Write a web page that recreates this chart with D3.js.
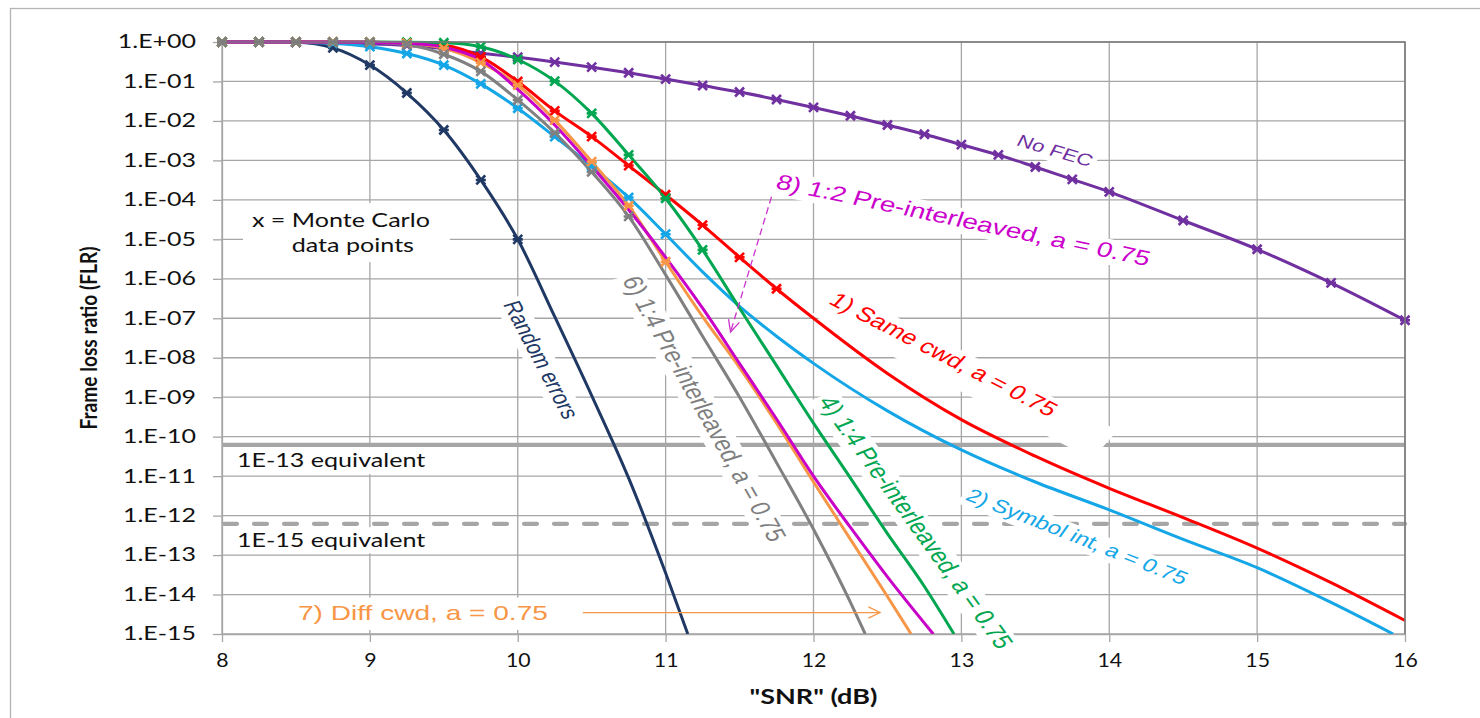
<!DOCTYPE html>
<html><head><meta charset="utf-8">
<script src="https://cdn.jsdelivr.net/npm/d3@7"></script>
<style>body{margin:0;background:#fff}svg{display:block}</style>
</head><body>
<svg id="c" width="1480" height="718"></svg>
<script>
// ---------- data ----------
const xTicks = [8, 9, 10, 11, 12, 13, 14, 15, 16];
const yTickValues = [1, 1e-1, 1e-2, 1e-3, 1e-4, 1e-5, 1e-6, 1e-7, 1e-8, 1e-9, 1e-10, 1e-11, 1e-12, 1e-13, 1e-14, 1e-15];
const yTickLabels = ["1.E+00","1.E-01","1.E-02","1.E-03","1.E-04","1.E-05","1.E-06","1.E-07","1.E-08","1.E-09","1.E-10","1.E-11","1.E-12","1.E-13","1.E-14","1.E-15"];

const snrRandom = [8, 8.25, 8.5, 8.75, 9, 9.25, 9.5, 9.75, 10, 10.25, 10.5, 10.75, 11, 11.15];
const flrRandom = [1, 1, 0.98, 0.71, 0.26, 5.1e-2, 5.9e-3, 3.2e-4, 1.0e-5, 1.1e-7, 1.1e-9, 8.9e-12, 3.5e-14, 1.0e-15];

const snrNoFec = [8, 8.25, 8.5, 8.75, 9, 9.25, 9.5, 9.75, 10, 10.25, 10.5, 10.75, 11, 11.25, 11.5, 11.75, 12, 12.25, 12.5, 12.75, 13, 13.25, 13.5, 13.75, 14, 14.5, 15, 15.5, 16];
const flrNoFec = [1, 1, 0.98, 0.955, 0.90, 0.81, 0.68, 0.52, 0.41, 0.31, 0.23, 0.166, 0.115, 7.9e-2, 5.4e-2, 3.5e-2, 2.2e-2, 1.35e-2, 7.9e-3, 4.6e-3, 2.5e-3, 1.38e-3, 6.8e-4, 3.3e-4, 1.6e-4, 3.0e-5, 5.6e-6, 7.9e-7, 8.9e-8];

const snrSameCwd = [8, 8.25, 8.5, 8.75, 9, 9.25, 9.5, 9.75, 10, 10.25, 10.5, 10.75, 11, 11.25, 11.5, 11.75, 12, 12.5, 13, 13.5, 14, 14.5, 15, 15.5, 16];
const flrSameCwd = [1, 1, 1, 1, 0.99, 0.955, 0.83, 0.42, 0.10, 1.8e-2, 4.0e-3, 7.4e-4, 1.35e-4, 2.3e-5, 3.5e-6, 5.6e-7, 1.0e-7, 4.0e-9, 2.7e-10, 3.2e-11, 4.9e-12, 8.9e-13, 1.5e-13, 2.0e-14, 2.2e-15];

const snrSymbolInt = [8, 8.25, 8.5, 8.75, 9, 9.25, 9.5, 9.75, 10, 10.25, 10.5, 10.75, 11, 11.25, 11.5, 11.75, 12, 12.5, 13, 13.5, 14, 14.5, 15, 15.5, 15.92];
const flrSymbolInt = [1, 1, 0.99, 0.93, 0.76, 0.51, 0.26, 8.7e-2, 2.1e-2, 4.0e-3, 7.1e-4, 1.15e-4, 1.35e-5, 1.5e-6, 2.0e-7, 3.5e-8, 7.2e-9, 4.5e-10, 4.6e-11, 7.1e-12, 1.4e-12, 2.5e-13, 4.8e-14, 6.3e-15, 1.0e-15];

const snrPre14a = [8, 8.25, 8.5, 8.75, 9, 9.25, 9.5, 9.75, 10, 10.25, 10.5, 10.75, 11, 11.25, 11.5, 11.75, 12, 12.25, 12.5, 12.75, 12.95];
const flrPre14a = [1, 1, 1, 1, 1, 0.99, 0.955, 0.76, 0.36, 0.102, 1.55e-2, 1.38e-3, 1.1e-4, 5.4e-6, 1.8e-7, 6.3e-9, 2.2e-10, 8.9e-12, 3.5e-13, 1.6e-14, 1.0e-15];

const snrPre14b = [8, 8.25, 8.5, 8.75, 9, 9.25, 9.5, 9.75, 10, 10.25, 10.5, 10.75, 11, 11.25, 11.5, 11.75, 12, 12.25, 12.35];
const flrPre14b = [1, 1, 1, 0.99, 0.98, 0.85, 0.49, 0.18, 3.4e-2, 5.0e-3, 5.1e-4, 3.8e-5, 1.26e-6, 3.5e-8, 1.0e-9, 2.2e-11, 4.5e-13, 6.3e-15, 1.0e-15];

const snrDiffCwd = [8, 8.25, 8.5, 8.75, 9, 9.25, 9.5, 9.75, 10, 10.25, 10.5, 10.75, 11, 11.25, 11.5, 11.75, 12, 12.25, 12.5, 12.66];
const flrDiffCwd = [1, 1, 1, 1, 0.99, 0.93, 0.69, 0.30, 8.1e-2, 1.05e-2, 9.3e-4, 7.1e-5, 2.7e-6, 1.1e-7, 5.6e-9, 2.2e-10, 7.1e-12, 2.5e-13, 8.9e-15, 1.0e-15];

const snrPre12 = [8, 8.25, 8.5, 8.75, 9, 9.25, 9.5, 9.75, 10, 10.25, 10.5, 10.75, 11, 11.25, 11.5, 11.75, 12, 12.25, 12.5, 12.81];
const flrPre12 = [1, 1, 1, 1, 0.99, 0.93, 0.74, 0.355, 6.3e-2, 7.9e-3, 7.1e-4, 5.6e-5, 3.5e-6, 1.8e-7, 7.1e-9, 2.8e-10, 1.0e-11, 5.0e-13, 2.8e-14, 1.0e-15];

// number of leading Monte Carlo points (marked with x) per series
const monteCarloCounts = {random: 9, noFec: 29, same: 16, symbol: 13, pre14a: 14, pre14b: 12, diff: 13, pre12: 0};

const refLevels = [6.2e-11, 6.2e-13];
const refLabels = ["1E-13 equivalent", "1E-15 equivalent"];

// curve labels: baseline start (s1,f1) and end (s2,f2) in data units
const curveLabels = [
  {text: "No FEC", color: "#7030a0", s1: 13.365, f1: 2.45e-3, s2: 13.865, f2: 6.8e-4},
  {text: "8) 1:2 Pre-interleaved, a = 0.75", color: "#cc00cc", s1: 11.736, f1: 1.99e-4, s2: 14.257, f2: 2.10e-6},
  {text: "1) Same cwd, a = 0.75", color: "#ff0000", s1: 12.095, f1: 2.42e-7, s2: 13.595, f2: 3.12e-10, pad: [3, 50, 3, 12]},
  {text: "2) Symbol int, a = 0.75", color: "#14a6e6", s1: 13.02, f1: 2.61e-12, s2: 14.493, f2: 1.72e-14},
  {text: "Random errors", color: "#1f3864", s1: 9.899, f1: 2.29e-7, s2: 10.311, f2: 2.62e-10},
  {text: "6) 1:4 Pre-interleaved, a = 0.75", color: "#7f7f7f", s1: 10.703, f1: 9.27e-7, s2: 11.703, f2: 2.0e-13},
  {text: "4) 1:4 Pre-interleaved, a = 0.75", color: "#00a650", s1: 12.027, f1: 7.94e-10, s2: 13.247, f2: 3.87e-16},
  {text: "7) Diff cwd, a = 0.75", color: "#f79646", s1: 8.514, f1: 2.23e-15, s2: 10.203, f2: 2.23e-15, pad: [6, 17, 7, 5]}
];
const arrows = [
  {color: "#f79646", s1: 10.44, f1: 3.5e-15, s2: 12.45, f2: 3.5e-15, dash: null},
  {color: "#cc33cc", s1: 11.716, f1: 1.2e-4, s2: 11.439, f2: 4.5e-8, dash: "7,4"}
];
const noteLines = [
  {text: "x = Monte Carlo", s: 8.804, f: 2.05e-5},
  {text: "data points", s: 8.885, f: 4.75e-6}
];
const noteBox = {s1: 8.142, s2: 9.541, f1: 8.3e-5, f2: 2.65e-6};
const refTextBoxes = [
  {s: 8.101, f: 1.69e-11, bs1: 8.041, bs2: 9.473, bf1: 5.42e-11, bf2: 1.12e-11},
  {s: 8.101, f: 1.58e-13, bs1: 8.041, bs2: 9.473, bf1: 5.08e-13, bf2: 1.11e-13}
];

// ---------- setup ----------
const S_TXT = 1.35, S_XT = 1.15, S_LAB = 1.33;
const GRID = "#a6a6a6";
const M = {left: 222, right: 1405, top: 42, bottom: 634};
const svg = d3.select("#c");
const x = d3.scaleLinear().domain([8, 16]).range([M.left, M.right]);
const y = d3.scaleLog().domain([1e-15, 1]).range([M.bottom, M.top]);

svg.append("rect").attr("x", 10.5).attr("y", 8.5).attr("width", 1490).attr("height", 730)
  .attr("fill", "none").attr("stroke", "#b4b4b4").attr("stroke-width", 1.3);

// grid
const grid = svg.append("g");
grid.selectAll("line.v").data(xTicks).join("line").attr("class", "v")
  .attr("x1", d => x(d)).attr("x2", d => x(d)).attr("y1", M.top).attr("y2", M.bottom)
  .attr("stroke", GRID).attr("stroke-width", 1.3);
grid.selectAll("line.h").data(yTickValues).join("line").attr("class", "h")
  .attr("x1", M.left).attr("x2", M.right).attr("y1", d => y(d)).attr("y2", d => y(d))
  .attr("stroke", GRID).attr("stroke-width", 1.3);

// axes
const gy = svg.append("g").attr("transform", `translate(${M.left},0)`)
  .call(d3.axisLeft(y).tickValues(yTickValues).tickFormat((d, i) => yTickLabels[i]).tickSize(9).tickSizeOuter(0).tickPadding(17));
const gx = svg.append("g").attr("transform", `translate(0,${M.bottom})`)
  .call(d3.axisBottom(x).tickValues(xTicks).tickFormat(d3.format("d")).tickSize(8).tickSizeOuter(0).tickPadding(12));
[gx, gy].forEach(g => {
  g.select(".domain").attr("stroke", GRID).attr("stroke-width", 1.3);
  g.selectAll(".tick line").attr("stroke", GRID).attr("stroke-width", 1.3);
});
gy.selectAll(".tick text").attr("font-family", "Lato, sans-serif").attr("font-size", 18.5).attr("fill", "#111")
  .attr("x", -26 / S_TXT).attr("transform", `scale(${S_TXT},1)`);
gx.selectAll(".tick text").attr("font-family", "Lato, sans-serif").attr("font-size", 18.5).attr("fill", "#111")
  .attr("transform", `scale(${S_XT},1)`);

// axis titles
const titles = svg.append("g").attr("font-family", "Lato, sans-serif").attr("font-weight", 700).attr("fill", "#111");
const yt = titles.append("text").text("Frame loss ratio (FLR)").attr("text-anchor", "middle").attr("font-size", 20)
  .attr("transform", `translate(97,338) scale(1.15,1) rotate(-90)`);
{
  const w = yt.node().getComputedTextLength();
  yt.attr("font-size", 20 * 183 / w);
}
titles.append("text").text('"SNR" (dB)').attr("text-anchor", "middle").attr("font-size", 20)
  .attr("transform", `translate(${(M.left + M.right) / 2},704) scale(${S_TXT},1)`);

// reference lines
const refs = svg.append("g");
refs.append("line").attr("x1", M.left).attr("x2", M.right).attr("y1", y(refLevels[0])).attr("y2", y(refLevels[0]))
  .attr("stroke", "#a6a6a6").attr("stroke-width", 4.2);
refs.append("line").attr("x1", M.left + 2).attr("x2", M.right).attr("y1", y(refLevels[1])).attr("y2", y(refLevels[1]))
  .attr("stroke", "#a6a6a6").attr("stroke-width", 4.2).attr("stroke-dasharray", "13,17").attr("stroke-linecap", "round");

// text boxes (notes)
const notes = svg.append("g");
notes.append("rect").attr("x", x(noteBox.s1)).attr("y", y(noteBox.f1))
  .attr("width", x(noteBox.s2) - x(noteBox.s1)).attr("height", y(noteBox.f2) - y(noteBox.f1)).attr("fill", "#fff");
noteLines.forEach(n => {
  notes.append("text").text(n.text).attr("text-anchor", "middle").attr("font-family", "Lato, sans-serif")
    .attr("font-size", 18.6).attr("fill", "#111")
    .attr("transform", `translate(${x(n.s)},${y(n.f)}) scale(${S_TXT},1)`);
});
refTextBoxes.forEach((b, i) => {
  notes.append("rect").attr("x", x(b.bs1)).attr("y", y(b.bf1))
    .attr("width", x(b.bs2) - x(b.bs1)).attr("height", y(b.bf2) - y(b.bf1)).attr("fill", "#fff");
  notes.append("text").text(refLabels[i]).attr("font-family", "Lato, sans-serif")
    .attr("font-size", 18.6).attr("fill", "#111")
    .attr("transform", `translate(${x(b.s)},${y(b.f)}) scale(${S_TXT},1)`);
});

// curve labels
const labelLayer = svg.append("g");
curveLabels.forEach(lab => {
  const x1 = x(lab.s1), y1 = y(lab.f1), x2 = x(lab.s2), y2 = y(lab.f2);
  const phi = Math.atan2(y2 - y1, x2 - x1);
  const th0 = Math.atan2(S_LAB * Math.sin(phi), Math.cos(phi));
  const L0 = Math.hypot(x2 - x1, y2 - y1) / Math.hypot(S_LAB * Math.cos(th0), Math.sin(th0));
  const g = labelLayer.append("g")
    .attr("transform", `translate(${x1},${y1}) scale(${S_LAB},1) rotate(${th0 * 180 / Math.PI})`);
  const t = g.append("text").text(lab.text).attr("font-family", "'Liberation Sans', Arial, sans-serif")
    .attr("font-size", 20).attr("fill", lab.color);
  const w = t.node().getComputedTextLength();
  const fs = 20 * L0 / w;
  t.attr("font-size", fs);
  const p = lab.pad || [3, 3, 3, 2];
  g.insert("rect", "text").attr("x", -p[0]).attr("y", -fs * 0.74 - p[2])
    .attr("width", L0 + p[0] + p[1]).attr("height", fs * 0.96 + p[2] + p[3]).attr("fill", "#fff");
});

// series
const series = [
  {key: "random", snr: snrRandom, flr: flrRandom, color: "#1f3864"},
  {key: "noFec", snr: snrNoFec, flr: flrNoFec, color: "#7030a0"},
  {key: "same", snr: snrSameCwd, flr: flrSameCwd, color: "#ff0000"},
  {key: "symbol", snr: snrSymbolInt, flr: flrSymbolInt, color: "#14a6e6"},
  {key: "pre14a", snr: snrPre14a, flr: flrPre14a, color: "#00a650"},
  {key: "diff", snr: snrDiffCwd, flr: flrDiffCwd, color: "#f79646"},
  {key: "pre14b", snr: snrPre14b, flr: flrPre14b, color: "#808080"},
  {key: "pre12", snr: snrPre12, flr: flrPre12, color: "#c800c8"}
];
svg.append("clipPath").attr("id", "plotclip").append("rect")
  .attr("x", M.left - 2).attr("y", M.top - 6).attr("width", M.right - M.left + 4).attr("height", M.bottom - M.top + 6);
const line = d3.line().x(d => x(d[0])).y(d => y(d[1])).curve(d3.curveMonotoneX);
const curves = svg.append("g").attr("clip-path", "url(#plotclip)");
const marks = svg.append("g");
series.forEach(s => {
  const pts = s.snr.map((v, i) => [v, s.flr[i]]);
  curves.append("path").datum(pts).attr("d", line).attr("fill", "none")
    .attr("stroke", s.color).attr("stroke-width", 3).attr("stroke-linejoin", "round");
  const mc = pts.slice(0, monteCarloCounts[s.key]);
  marks.selectAll(null).data(mc).join("path")
    .attr("transform", d => `translate(${x(d[0])},${y(d[1])})`)
    .attr("d", "M-4.5,-4.5L4.5,4.5M-4.5,4.5L4.5,-4.5M-5,0L5,0")
    .attr("stroke", s.color).attr("stroke-width", 2.6).attr("fill", "none");
});

// arrows
const arr = svg.append("g");
arrows.forEach(a => {
  const x1 = x(a.s1), y1 = y(a.f1), x2 = x(a.s2), y2 = y(a.f2);
  const ang = Math.atan2(y2 - y1, x2 - x1), L = 13, sp = 0.45;
  arr.append("line").attr("x1", x1).attr("y1", y1).attr("x2", x2).attr("y2", y2)
    .attr("stroke", a.color).attr("stroke-width", 1.3).attr("stroke-dasharray", a.dash);
  const head = `M${x2 - L * Math.cos(ang - sp)},${y2 - L * Math.sin(ang - sp)}L${x2},${y2}L${x2 - L * Math.cos(ang + sp)},${y2 - L * Math.sin(ang + sp)}`;
  arr.append("path").attr("d", head).attr("fill", "none").attr("stroke", a.color).attr("stroke-width", 1.3);
});

// plot border (top / right)
svg.append("path").attr("d", `M${M.left},${M.top}H${M.right}V${M.bottom}`)
  .attr("fill", "none").attr("stroke", "#7a7a7a").attr("stroke-width", 1.6);
</script>
</body></html>
